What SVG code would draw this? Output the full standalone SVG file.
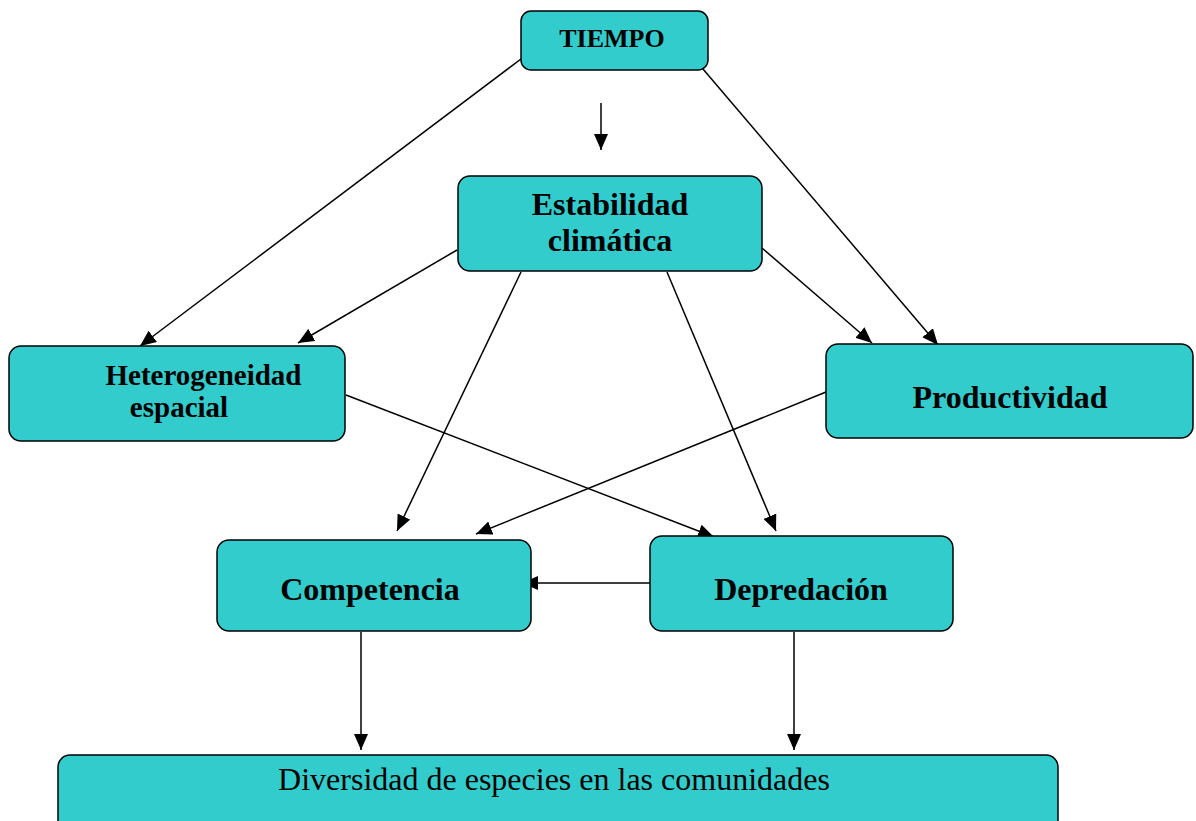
<svg xmlns="http://www.w3.org/2000/svg" width="1196" height="821" viewBox="0 0 1196 821">
<style>
.box{fill:#33CCCC;stroke:#000;stroke-width:1.5}
.b{font-family:"Liberation Serif",serif;font-weight:bold;fill:#000;text-anchor:middle}
.n{font-family:"Liberation Serif",serif;fill:#000;text-anchor:middle}
.c{stroke:#000;stroke-width:1.5;fill:none;marker-end:url(#ah)}
</style>
<defs>
<marker id="ah" viewBox="0 0 16 14" refX="16" refY="7" markerWidth="16" markerHeight="14" markerUnits="userSpaceOnUse" orient="auto">
<path d="M0,0 L16,7 L0,14 Z" fill="#000"/>
</marker>
</defs>
<rect width="1196" height="821" fill="#fff"/>
<g id="connectors">
<line class="c" x1="521" y1="59" x2="140" y2="346"/>
<line class="c" x1="697" y1="62" x2="938" y2="345"/>
<line class="c" x1="601" y1="103" x2="601" y2="150"/>
<line class="c" x1="457" y1="250" x2="298" y2="343"/>
<line class="c" x1="762" y1="248" x2="872" y2="343"/>
<line class="c" x1="521" y1="272" x2="397" y2="531"/>
<line class="c" x1="667" y1="272" x2="776" y2="531"/>
<line class="c" x1="346" y1="395" x2="714" y2="537"/>
<line class="c" x1="826" y1="392" x2="476" y2="534"/>
<line class="c" x1="650" y1="583" x2="522" y2="583"/>
<line class="c" x1="361" y1="632" x2="361" y2="750"/>
<line class="c" x1="794" y1="632" x2="794" y2="750"/>
</g>
<g id="tiempo">
<rect class="box" x="521" y="11" width="187" height="59" rx="10"/>
<text class="b" x="612" y="47" font-size="26">TIEMPO</text>
</g>
<g id="estabilidad">
<rect class="box" x="458" y="176" width="304" height="95" rx="12"/>
<text class="b" x="610" y="215" font-size="32">Estabilidad</text>
<text class="b" x="610" y="251" font-size="32">climática</text>
</g>
<g id="heterogeneidad">
<rect class="box" x="9" y="346" width="336" height="95" rx="12"/>
<text class="b" x="203.5" y="385" font-size="29">Heterogeneidad</text>
<text class="b" x="179" y="417" font-size="29">espacial</text>
</g>
<g id="productividad">
<rect class="box" x="826" y="344" width="367" height="94" rx="12"/>
<text class="b" x="1010" y="408" font-size="32">Productividad</text>
</g>
<g id="competencia">
<rect class="box" x="217" y="540" width="314" height="91" rx="12"/>
<text class="b" x="370" y="600" font-size="32">Competencia</text>
</g>
<g id="depredacion">
<rect class="box" x="650" y="536" width="303" height="95" rx="12"/>
<text class="b" x="801" y="600" font-size="32">Depredación</text>
</g>
<g id="diversidad">
<rect class="box" x="58" y="755" width="1000" height="80" rx="12"/>
<text class="n" x="554" y="790" font-size="32">Diversidad de especies en las comunidades</text>
</g>
</svg>
